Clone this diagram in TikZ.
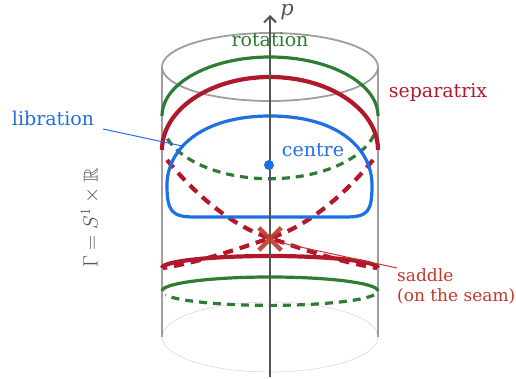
\documentclass[tikz,border=0pt]{standalone}
\usepackage{amsmath,amssymb}
\usepackage{fontspec}
\setmainfont{DejaVu Serif}
\usepackage{tikz}
\usetikzlibrary{arrows.meta,positioning,shapes.misc}
\definecolor{cylgray}{HTML}{9E9E9E}
\definecolor{cyllight}{HTML}{CCCCCC}
\definecolor{axisgray}{HTML}{555555}
\definecolor{rotgreen}{HTML}{2E7D32}
\definecolor{sepred}{HTML}{B2182B}
\definecolor{saddlered}{HTML}{C0392B}
\definecolor{libblue}{HTML}{1F6FE5}

\begin{document}
\begin{tikzpicture}[
  x=1pt,y=-1pt,
  cyl/.style={draw=cylgray,line width=1.8pt},
  rot/.style={draw=rotgreen,line width=3.2pt},
  rotdash/.style={rot,dash pattern=on 8pt off 6pt},
  sep/.style={draw=sepred,line width=4.2pt},
  sepdash/.style={sep,dash pattern=on 10pt off 7pt},
  lib/.style={draw=libblue,line width=3.2pt},
  lbl/.style={font=\fontsize{19}{22}\selectfont,inner sep=0pt},
  lead/.style={line width=1pt}
]
\useasboundingbox (0,0) rectangle (516,379);
% cylinder
\draw[cyllight] (270,337) ellipse[x radius=108,y radius=35];
\draw[cyl] (162,67) -- (162,337) (378,67) -- (378,337);
\draw[cyl] (270,67) ellipse[x radius=108,y radius=34];
% rotation orbits
\draw[rot] (162,116) arc[start angle=180,end angle=360,x radius=108,y radius=59];
\draw[rotdash] (374,135) arc[start angle=15,end angle=165,x radius=108,y radius=59];
\draw[rot] (162,291) arc[start angle=180,end angle=360,x radius=108,y radius=14];
\draw[rotdash] (374,295) arc[start angle=15,end angle=165,x radius=108,y radius=14];
% separatrix
\draw[sep] (162,150) arc[start angle=180,end angle=360,x radius=108,y radius=73];
\draw[sep] (162,268) arc[start angle=180,end angle=360,x radius=108,y radius=12];
\draw[sepdash] (167,160) .. controls (198,198) and (236,228) .. (270,238)
  .. controls (305,250) and (340,262) .. (377,268);
\draw[sepdash] (373,160) .. controls (342,198) and (304,228) .. (270,238)
  .. controls (235,250) and (200,262) .. (163,268);
% libration
\draw[lib] (270,116) .. controls (340,116) and (372,150) .. (372,185)
  .. controls (372,212) and (368,217) .. (345,217) -- (195,217)
  .. controls (172,217) and (167,212) .. (167,185)
  .. controls (167,150) and (200,116) .. (270,116);
% p axis
\coordinate (pbot) at (270,377);
\coordinate (ptop) at (270,15);
\draw[axisgray,line width=2pt,-{Straight Barb[length=6pt,width=12pt,line width=2pt]}] (pbot) -- (ptop);
\node[lbl,text=axisgray,font=\fontsize{21}{21}\selectfont] (plabel) at (287,12) {\textit{p}};
% points
\node[circle,fill=libblue,inner sep=0pt,minimum size=10pt] (centre) at (269,165) {};
\node[cross out,draw=saddlered,line width=4.5pt,inner sep=0pt,minimum size=18pt,opacity=0.9] (saddle) at (270,239) {};
% labels
\node[lbl,text=rotgreen] (rotlabel) at (270,40) {rotation};
\node[lbl,text=sepred] (seplabel) at (438,92) {separatrix};
\node[lbl,text=libblue] (liblabel) at (53,118) {libration};
\node[lbl,text=libblue] (centrelabel) at (313,150) {centre};
\node[lbl,text=saddlered,align=left,anchor=north west,font=\fontsize{17}{20}\selectfont] (saddlelabel) at (397,268) {saddle\\(on the seam)};
\node[lbl,text=axisgray,rotate=90,font=\fontsize{20}{20}\selectfont] (gammalabel) at (90,218) {$\Gamma = S^1\times\mathbb{R}$};
% leaders
\coordinate (libpt) at (182,146);
\draw[lead,libblue] (103,129) -- (libpt);
\draw[lead,saddlered] (saddle.center) ++(12,4) -- (saddlelabel.north west);
\end{tikzpicture}
\end{document}
